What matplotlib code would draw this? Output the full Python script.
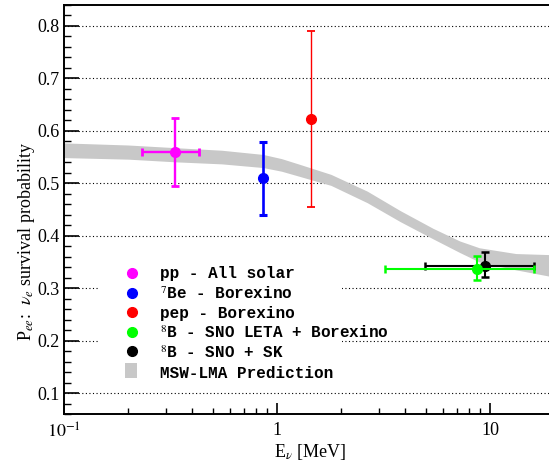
import matplotlib
matplotlib.use("Agg")
import matplotlib.pyplot as plt
from matplotlib.patches import Rectangle
from matplotlib.ticker import MultipleLocator, FixedLocator, LogLocator, NullFormatter, FixedFormatter

plt.rcParams['font.family'] = ['Liberation Serif', 'DejaVu Serif']
plt.rcParams['mathtext.fontset'] = 'stix'

# ---- data ----
band_E = [0.1, 0.2, 0.33, 0.55, 0.86, 1.05, 1.28, 1.79, 2.65, 3.78, 5.4, 7.2, 8.9, 13.2, 18.9]
band_hi = [0.577, 0.573, 0.568, 0.563, 0.555, 0.547, 0.536, 0.517, 0.485, 0.448, 0.414, 0.390, 0.377, 0.366, 0.364]
band_lo = [0.549, 0.546, 0.541, 0.537, 0.530, 0.523, 0.513, 0.496, 0.463, 0.427, 0.394, 0.368, 0.350, 0.335, 0.323]

labels = ["pp - All solar", "$^{7}$Be - Borexino", "pep - Borexino",
          "$^{8}$B - SNO LETA + Borexino", "$^{8}$B - SNO + SK"]
colors = ["#ff00ff", "#0000ff", "#ff0000", "#00ff00", "#000000"]
E_val = [0.332, 0.862, 1.44, 8.66, 9.49]
E_lo = [0.233, 0.862, 1.44, 3.21, 4.96]
E_hi = [0.428, 0.862, 1.44, 16.1, 16.1]
P_val = [0.559, 0.510, 0.623, 0.337, 0.343]
P_lo = [0.495, 0.439, 0.455, 0.315, 0.321]
P_hi = [0.625, 0.579, 0.791, 0.361, 0.369]
band_label = "MSW-LMA Prediction"

xticks = [0.1, 1, 10]
xticklabels = ["$10^{-1}$", "1", "10"]

# ---- figure ----
W, H = 549, 463
fig = plt.figure(figsize=(W / 100, H / 100), dpi=100)
L, R, T, B = 64, 549, 5, 414
ax = fig.add_axes([L / W, 1 - B / H, (R - L) / W, (B - T) / H])
ax.set_xscale('log')
ax.set_xlim(0.1, 18.9)
ax.set_ylim(0.06, 0.84)

ax.fill_between(band_E, band_lo, band_hi, color='#c8c8c8', lw=0, zorder=1)

lws = [1.7, 1.9, 1.0, 1.5, 1.5]
order = [0, 1, 2, 4, 3]
for i in order:
    xerr = [[E_val[i] - E_lo[i]], [E_hi[i] - E_val[i]]]
    yerr = [[P_val[i] - P_lo[i]], [P_hi[i] - P_val[i]]]
    ax.errorbar([E_val[i]], [P_val[i]], xerr=xerr, yerr=yerr, fmt='o',
                color=colors[i], ms=7, lw=lws[i], capsize=3.2, capthick=lws[i] + 0.3,
                zorder=4 + order.index(i))

# axes styling
for s in ['left', 'bottom', 'top']:
    ax.spines[s].set_linewidth(1.4)
ax.spines['right'].set_visible(False)

ax.yaxis.set_major_locator(MultipleLocator(0.1))
ax.yaxis.set_minor_locator(MultipleLocator(0.02))
ax.xaxis.set_major_locator(FixedLocator(xticks))
ax.xaxis.set_major_formatter(FixedFormatter(xticklabels))
ax.xaxis.set_minor_locator(LogLocator(base=10, subs=range(2, 10)))
ax.xaxis.set_minor_formatter(NullFormatter())

ax.tick_params(axis='y', which='major', direction='in', length=11, width=1.2, labelsize=13, pad=3)
ax.tick_params(axis='y', which='minor', direction='in', length=5, width=1.0)
ax.tick_params(axis='x', which='major', direction='in', length=8, width=1.2, labelsize=13, pad=6)
ax.tick_params(axis='x', which='minor', direction='in', length=4, width=1.0)
ax.tick_params(right=False, top=False, which='both')

ax.grid(axis='y', which='major', color='black', linestyle=(0, (1, 2.2)), lw=0.8)
ax.set_axisbelow(True)

ax.set_ylabel(r"P$_{ee}$:  $\nu_{e}$ survival probability", fontsize=13, va='center')
ax.yaxis.set_label_coords((27 - L) / (R - L), (B - 241) / (B - T))
ax.set_xlabel(r"E$_{\nu}$ [MeV]", fontsize=13, va='center')
ax.xaxis.set_label_coords((310 - L) / (R - L), (B - 452) / (B - T))

# ---- manual legend (ROOT style) ----
def ax_xy(px, py):
    return (px - L) / (R - L), (B - py) / (B - T)

x0, y0 = ax_xy(100, 388)
x1, y1 = ax_xy(342, 260)
ax.add_patch(Rectangle((x0, y0), x1 - x0, y1 - y0, transform=ax.transAxes,
                       facecolor='white', edgecolor='none', zorder=10))
leg_font = dict(family='Liberation Mono', weight='bold', size=11.5)
mark_y = [273.3, 292.7, 312, 332, 351.3]
text_base = [278.3, 299, 318.3, 338.3, 358.3]
for i in range(len(labels)):
    mx, my = ax_xy(131.7, mark_y[i])
    ax.plot([mx], [my], 'o', color=colors[i], ms=7, transform=ax.transAxes,
            zorder=11, clip_on=False)
    tx, ty = ax_xy(160, text_base[i])
    ax.text(tx, ty, labels[i], transform=ax.transAxes, va='baseline', ha='left',
            zorder=12, fontdict=leg_font)
sx0, sy0 = ax_xy(125, 378)
sx1, sy1 = ax_xy(137, 363)
ax.add_patch(Rectangle((sx0, sy0), sx1 - sx0, sy1 - sy0, transform=ax.transAxes,
                       facecolor='#c8c8c8', edgecolor='none', zorder=11))
tx, ty = ax_xy(160, 378.3)
ax.text(tx, ty, band_label, transform=ax.transAxes, va='baseline', ha='left',
        zorder=12, fontdict=leg_font)

fig.savefig("out.png", dpi=100)
